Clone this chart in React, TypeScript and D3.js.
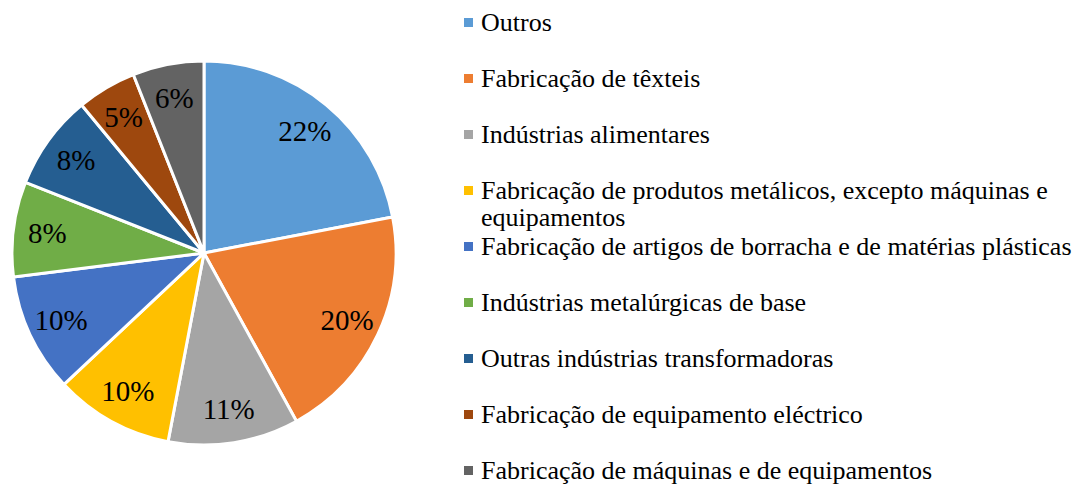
import { useMemo } from "react";
import * as d3 from "d3";

const WIDTH = 1090;
const HEIGHT = 484;

const categories = [
  "Outros",
  "Fabricação de têxteis",
  "Indústrias alimentares",
  "Fabricação de produtos metálicos, excepto máquinas e equipamentos",
  "Fabricação de artigos de borracha e de matérias plásticas",
  "Indústrias metalúrgicas de base",
  "Outras indústrias transformadoras",
  "Fabricação de equipamento eléctrico",
  "Fabricação de máquinas e de equipamentos",
];

const shares = [22, 20, 11, 10, 10, 8, 8, 5, 6];

// legend labels, with the wrapped one split in two lines
const legendLines = [
  ["Outros"],
  ["Fabricação de têxteis"],
  ["Indústrias alimentares"],
  ["Fabricação de produtos metálicos, excepto máquinas e", "equipamentos"],
  ["Fabricação de artigos de borracha e de matérias plásticas"],
  ["Indústrias metalúrgicas de base"],
  ["Outras indústrias transformadoras"],
  ["Fabricação de equipamento eléctrico"],
  ["Fabricação de máquinas e de equipamentos"],
];

const colors = [
  "#5B9BD5",
  "#ED7D31",
  "#A5A5A5",
  "#FFC000",
  "#4472C4",
  "#70AD47",
  "#255E91",
  "#9E480E",
  "#636363",
];

const CENTER = { x: 204, y: 253 };
const RADIUS = 192;
const LABEL_RADIUS = 158;
const FONT = "Liberation Serif, Tinos, Times New Roman, DejaVu Serif, serif";

const LEGEND = { x: 464, textX: 481, top: 31, step: 56, lineHeight: 27, box: 9 };

type Slice = { name: string; value: number; color: string };

export default function App() {
  const data = useMemo<Slice[]>(
    () => categories.map((name, i) => ({ name, value: shares[i], color: colors[i] })),
    []
  );

  const arcs = useMemo(
    () =>
      d3
        .pie<Slice>()
        .sort(null)
        .value((d) => d.value)(data),
    [data]
  );

  const arcGen = d3.arc<d3.PieArcDatum<Slice>>().innerRadius(0).outerRadius(RADIUS);
  const labelArc = d3
    .arc<d3.PieArcDatum<Slice>>()
    .innerRadius(LABEL_RADIUS)
    .outerRadius(LABEL_RADIUS);

  return (
    <svg
      width={WIDTH}
      height={HEIGHT}
      style={{ position: "absolute", left: 0, top: 0, background: "#fff", fontFamily: FONT }}
    >
      <g transform={`translate(${CENTER.x},${CENTER.y})`}>
        {arcs.map((a, i) => (
          <path
            key={i}
            d={arcGen(a) ?? ""}
            fill={a.data.color}
            stroke="#fff"
            strokeWidth={3}
            strokeLinejoin="round"
          />
        ))}
        {arcs.map((a, i) => {
          const [x, y] = labelArc.centroid(a);
          return (
            <text
              key={i}
              x={x}
              y={y}
              textAnchor="middle"
              dominantBaseline="central"
              style={{ fontFamily: FONT, fontSize: 29 }}
              fill="#000"
            >
              {`${a.data.value}%`}
            </text>
          );
        })}
      </g>
      <g>
        {legendLines.map((lines, i) => {
          const baseline = LEGEND.top + i * LEGEND.step;
          return (
            <g key={i}>
              <rect
                x={LEGEND.x}
                y={baseline - 13}
                width={LEGEND.box}
                height={LEGEND.box}
                fill={colors[i]}
              />
              {lines.map((line, j) => (
                <text
                  key={j}
                  x={LEGEND.textX}
                  y={baseline + j * LEGEND.lineHeight}
                  style={{ fontFamily: FONT, fontSize: 26 }}
                  fill="#000"
                >
                  {line}
                </text>
              ))}
            </g>
          );
        })}
      </g>
    </svg>
  );
}
